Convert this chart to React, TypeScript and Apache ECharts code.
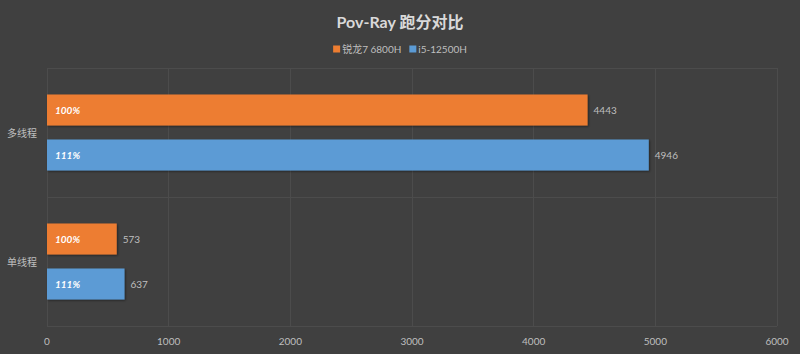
import React, { useEffect, useRef } from "react";
import * as echarts from "echarts";

const categories = ["多线程", "单线程"];
const seriesNames = ["锐龙7 6800H", "i5-12500H"];
const ryzenScores = [4443, 573];
const intelScores = [4946, 637];
const ryzenPct = ["100%", "100%"];
const intelPct = ["111%", "111%"];
const xTicks = { min: 0, max: 6000, interval: 1000 };

const FONT = 'Lato, "Noto Sans CJK SC", sans-serif';
const ORANGE = "#ED7D31";
const BLUE = "#5B9BD5";

export default function App() {
  const ref = useRef<HTMLDivElement>(null);
  useEffect(() => {
    if (!ref.current) return;
    const chart = echarts.init(ref.current, null, { renderer: "svg" });
    const barStyle = (c: string) => ({
      color: c,
      shadowColor: "rgba(0,0,0,0.45)",
      shadowBlur: 2,
      shadowOffsetX: 1,
      shadowOffsetY: 1,
    });
    const pctLabel = (arr: string[]) => ({
      show: true,
      position: "insideLeft",
      distance: 8,
      formatter: (p: any) => arr[p.dataIndex],
      color: "#ffffff",
      fontStyle: "italic",
      fontWeight: "bold",
      fontSize: 10,
      fontFamily: FONT,
    });
    const valLabel = {
      show: true,
      position: "right",
      distance: 6,
      color: "#bfbfbf",
      fontSize: 10,
      fontFamily: FONT,
    };
    chart.setOption({
      animation: false,
      backgroundColor: "#404040",
      textStyle: { fontFamily: FONT },
      title: {
        text: "Pov-Ray 跑分对比",
        left: "center",
        top: 8,
        textStyle: { color: "#d9d9d9", fontSize: 16, fontWeight: "bold", fontFamily: FONT },
      },
      legend: {
        data: seriesNames,
        top: 39,
        left: "center",
        itemWidth: 7,
        itemHeight: 7,
        itemGap: 8,
        icon: "rect",
        textStyle: { color: "#bfbfbf", fontSize: 10, fontFamily: FONT, padding: [0, 0, 0, -3] },
      },
      grid: { left: 47, right: 23, top: 68, bottom: 28, containLabel: false },
      xAxis: {
        type: "value",
        min: xTicks.min,
        max: xTicks.max,
        interval: xTicks.interval,
        axisLine: { show: false },
        axisTick: { show: false },
        axisLabel: { color: "#bfbfbf", fontSize: 10, margin: 10, fontFamily: FONT, formatter: (v: number) => String(v) },
        splitLine: { show: true, lineStyle: { color: "#4c4c4c", width: 1 } },
      },
      yAxis: [
        {
          type: "category",
          data: categories,
          inverse: true,
          axisLine: { show: false },
          axisTick: { show: false },
          axisLabel: { color: "#bfbfbf", fontSize: 10, margin: 10, fontFamily: '"Noto Sans CJK SC", sans-serif' },
          splitLine: { show: true, lineStyle: { color: "#4c4c4c", width: 1 } },
        },
        {
          type: "category",
          data: categories,
          inverse: true,
          show: false,
        },
      ],
      series: [
        {
          name: seriesNames[0],
          type: "bar",
          yAxisIndex: 0,
          data: ryzenScores,
          barWidth: 31,
          barGap: "45%",
          itemStyle: barStyle(ORANGE),
          label: pctLabel(ryzenPct),
        },
        {
          name: seriesNames[1],
          type: "bar",
          yAxisIndex: 0,
          data: intelScores,
          barWidth: 31,
          barGap: "45%",
          itemStyle: barStyle(BLUE),
          label: pctLabel(intelPct),
        },
        {
          name: "v1",
          type: "bar",
          yAxisIndex: 1,
          data: ryzenScores,
          barWidth: 31,
          barGap: "45%",
          itemStyle: { color: "rgba(0,0,0,0)" },
          label: valLabel,
          silent: true,
        },
        {
          name: "v2",
          type: "bar",
          yAxisIndex: 1,
          data: intelScores,
          barWidth: 31,
          barGap: "45%",
          itemStyle: { color: "rgba(0,0,0,0)" },
          label: valLabel,
          silent: true,
        },
      ],
    });
    return () => chart.dispose();
  }, []);
  return <div ref={ref} style={{ width: 800, height: 354, position: "absolute", left: 0, top: 0 }} />;
}
